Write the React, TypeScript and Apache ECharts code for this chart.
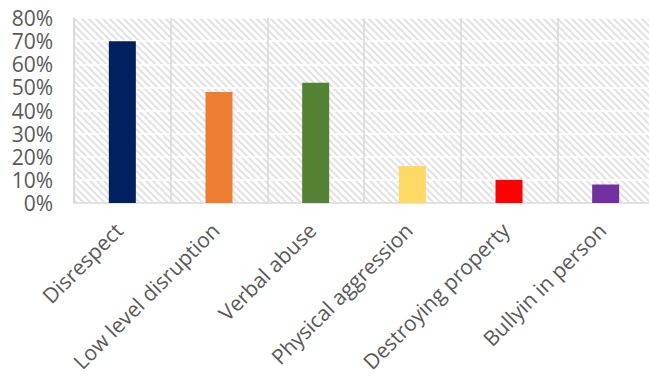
import React, { useEffect, useRef } from "react";
import * as echarts from "echarts";

const categories = [
  "Disrespect",
  "Low level disruption",
  "Verbal abuse",
  "Physical aggression",
  "Destroying property",
  "Bullyin in person",
];
const values = [70, 48, 52, 16, 10, 8];
const barColors = ["#002060", "#ED7D31", "#548235", "#FFD966", "#FF0000", "#7030A0"];
const yTicks = { min: 0, max: 80, interval: 10 };

// Light diagonal hatch used as the plot-area fill
const hatchSvg =
  '<svg xmlns="http://www.w3.org/2000/svg" width="7" height="7">' +
  '<path d="M-2,-2 L9,9 M-2,5 L2,9 M5,-2 L9,2" stroke="#e2e2e2" stroke-width="2"/>' +
  "</svg>";
const hatchUrl = "data:image/svg+xml;charset=utf-8," + encodeURIComponent(hatchSvg);

export default function App() {
  const ref = useRef<HTMLDivElement>(null);

  useEffect(() => {
    if (!ref.current) return;
    const chart = echarts.init(ref.current, undefined, { renderer: "svg" });
    const hatchImg = new Image();
    hatchImg.src = hatchUrl;

    const textColor = "#595959";
    const font = "'Open Sans', sans-serif";

    chart.setOption({
      animation: false,
      backgroundColor: "#ffffff",
      grid: {
        left: 74,
        top: 18,
        right: -5,
        bottom: 173,
        outerBoundsMode: "none",
        containLabel: false,
        show: true,
        borderWidth: 0,
        backgroundColor: { image: hatchImg, repeat: "repeat" } as any,
      } as any,
      xAxis: {
        type: "category",
        data: categories,
        axisLine: { show: true, lineStyle: { color: "#d9d9d9", width: 1.5 } },
        axisTick: { show: false },
        splitLine: { show: true, lineStyle: { color: "#d9d9d9", width: 1.5 } },
        axisLabel: {
          rotate: 45,
          interval: 0,
          margin: 27,
          verticalAlign: "bottom",
          lineHeight: 10,
          color: textColor,
          fontFamily: font,
          fontSize: 21,
        },
      },
      yAxis: {
        type: "value",
        min: yTicks.min,
        max: yTicks.max,
        interval: yTicks.interval,
        axisLine: { show: true, lineStyle: { color: "#d9d9d9", width: 1.5 } },
        axisTick: { show: false },
        splitLine: { show: true, lineStyle: { color: "#ffffff", width: 1.5 } },
        axisLabel: {
          formatter: "{value}%",
          margin: 21,
          color: textColor,
          fontFamily: font,
          fontSize: 21,
          lineHeight: 20,
        },
      },
      series: [
        {
          type: "bar",
          barWidth: 27,
          data: values.map((v, i) => ({ value: v, itemStyle: { color: barColors[i] } })),
        },
      ],
    });

    hatchImg.onload = () => chart.resize();

    return () => chart.dispose();
  }, []);

  return (
    <div
      ref={ref}
      style={{ position: "fixed", left: 0, top: 0, width: 649, height: 376 }}
    />
  );
}
